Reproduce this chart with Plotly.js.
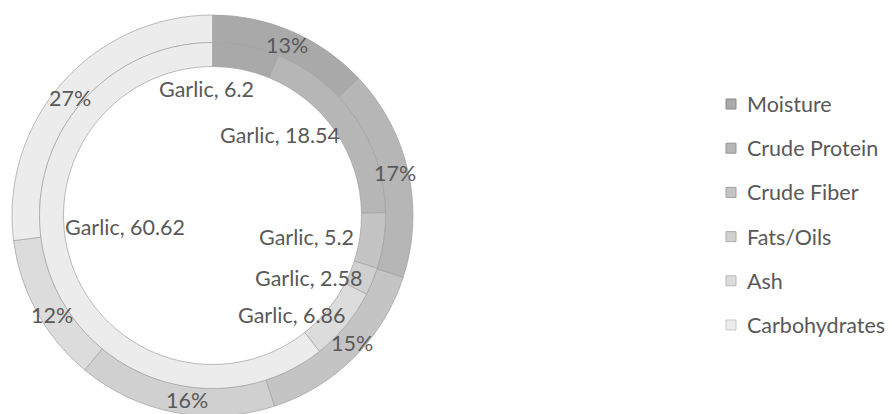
<!DOCTYPE html>
<html>
<head>
<meta charset="utf-8">
<script src="https://cdn.plot.ly/plotly-3.0.1.min.js"></script>
<style>
html,body{margin:0;padding:0;overflow:hidden;background:#fff;}
#chart{width:892px;height:420px;}
</style>
</head>
<body>
<div id="chart"></div>
<script>
// ---- data ----
const categories = ["Moisture", "Crude Protein", "Crude Fiber", "Fats/Oils", "Ash", "Carbohydrates"];
const garlicValues = [6.2, 18.54, 5.2, 2.58, 6.86, 60.62];      // inner ring
const outerPercents = [13, 17, 15, 16, 12, 27];                  // outer ring (%)
const seriesName = "Garlic";

// ---- styling / layout ----
const colors = ["#a9a9a9", "#b6b6b6", "#c4c4c4", "#d0d0d0", "#dcdcdc", "#ececec"];
const legendBorder = ["#8a8a8a", "#959595", "#a0a0a0", "#ababab", "#b8b8b8", "#c8c8c8"];
const W = 892, H = 420;
const cx = 212.5, cy = 215.5;
const R_OUT = 200.5, R_MID = 173, R_IN = 149;
const textColor = "#595959";
const FONT = "Lato, 'Open Sans', sans-serif";
const FS = 21.5;

// label positions (pixel centres) for data labels
const innerLabelPos = [[206, 89], [280, 135], [306, 237], [309, 278], [292, 315], [125, 227]];
const outerLabelPos = [[287, 45], [395, 173], [352, 343], [187, 400], [52, 315], [70, 98]];

function px2x(x){ return x / W; }
function px2y(y){ return 1 - y / H; }
function dom(r){
  return {x: [px2x(cx - r), px2x(cx + r)], y: [px2y(cy + r), px2y(cy - r)]};
}

const inner = {
  type: "pie", values: garlicValues, labels: categories, name: seriesName,
  sort: false, direction: "clockwise", rotation: 0,
  hole: R_IN / R_MID, domain: dom(R_MID),
  textinfo: "none", showlegend: false,
  marker: {colors: colors, line: {color: "#a0a0a0", width: 0.7}}
};
const outer = {
  type: "pie", values: outerPercents, labels: categories, name: "",
  sort: false, direction: "clockwise", rotation: 0,
  hole: R_MID / R_OUT, domain: dom(R_OUT),
  textinfo: "none", showlegend: false,
  marker: {colors: colors, line: {color: "#a0a0a0", width: 0.7}}
};

const annotations = [];
const shapes = [];
garlicValues.forEach((v, i) => {
  annotations.push({
    xref: "paper", yref: "paper", x: px2x(innerLabelPos[i][0]), y: px2y(innerLabelPos[i][1]),
    xanchor: "center", yanchor: "middle", showarrow: false,
    text: seriesName + ", " + v, font: {family: FONT, size: FS, color: textColor}
  });
});
outerPercents.forEach((v, i) => {
  annotations.push({
    xref: "paper", yref: "paper", x: px2x(outerLabelPos[i][0]), y: px2y(outerLabelPos[i][1]),
    xanchor: "center", yanchor: "middle", showarrow: false,
    text: v + "%", font: {family: FONT, size: FS, color: textColor}
  });
});
// legend
const legX = 726, legY0 = 104, legStep = 44.2, sq = 10;
categories.forEach((c, i) => {
  const y = legY0 + i * legStep;
  shapes.push({
    type: "rect", xref: "paper", yref: "paper",
    x0: px2x(legX), x1: px2x(legX + sq), y0: px2y(y + sq / 2), y1: px2y(y - sq / 2),
    fillcolor: colors[i], line: {color: legendBorder[i], width: 1}
  });
  annotations.push({
    xref: "paper", yref: "paper", x: px2x(legX + sq + 9), y: px2y(y),
    xanchor: "left", yanchor: "middle", showarrow: false,
    text: c, font: {family: FONT, size: FS, color: textColor}
  });
});

const layout = {
  width: W, height: H,
  margin: {l: 0, r: 0, t: 0, b: 0},
  paper_bgcolor: "#ffffff", plot_bgcolor: "#ffffff",
  showlegend: false,
  annotations: annotations, shapes: shapes
};
Plotly.newPlot("chart", [outer, inner], layout, {displayModeBar: false, staticPlot: true});
</script>
</body>
</html>
